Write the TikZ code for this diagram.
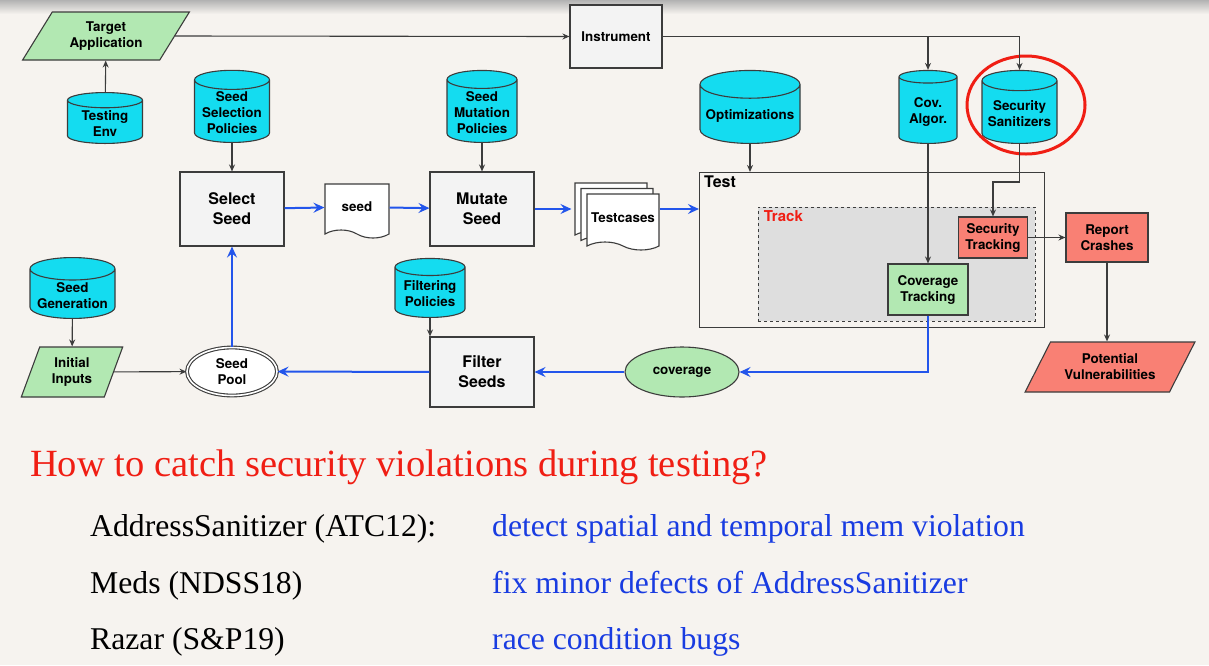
\documentclass[tikz,border=0pt]{standalone}
\usepackage{fontspec}
\setmainfont{Liberation Serif}
\setsansfont{TeX Gyre Heros}
\usetikzlibrary{shapes.geometric,shapes.symbols,shadows,arrows.meta,positioning}

\definecolor{bgpaper}{RGB}{246,243,239}
\definecolor{dbcyan}{RGB}{20,220,240}
\definecolor{okgreen}{RGB}{178,232,178}
\definecolor{badred}{RGB}{249,128,116}
\definecolor{boxgray}{RGB}{243,243,243}
\definecolor{edgegray}{RGB}{60,60,60}
\definecolor{trackgray}{RGB}{222,222,222}
\definecolor{flowblue}{RGB}{35,85,235}
\definecolor{titlered}{RGB}{240,30,20}
\definecolor{noteblue}{RGB}{25,60,225}

\begin{document}
\begin{tikzpicture}[%
    x=1pt, y=-1pt,              % one unit is one pixel, y runs downwards
    >={Stealth[length=7pt,width=6pt]},
    ]
% -------------------------------------------------
% Box and line styles
\tikzset{
  txt/.style={font=\sffamily\bfseries\fontsize{13.4}{16}\selectfont},
  big/.style={font=\sffamily\bfseries\fontsize{16}{20}\selectfont},
  base/.style={txt, draw=edgegray, line width=1.1pt, align=center, inner sep=2pt},
  proc/.style={base, rectangle, fill=boxgray},
  db/.style={base, cylinder, shape border rotate=90, aspect=0.3, fill=dbcyan, anchor=south},
  io/.style={base, trapezium, trapezium stretches=true, fill=okgreen},
  docu/.style={base, tape, tape bend top=none, tape bend bottom=out and in,
    tape bend height=8pt, fill=white},
  % Connector line styles
  norm/.style={->, draw=edgegray, line width=1.1pt},
  flow/.style={->, draw=flowblue, line width=2pt,
    >={Stealth[length=11pt,width=10pt,inset=4pt]}},
  note/.style={anchor=base west, inner sep=0pt,
    font=\rmfamily\fontsize{31.7}{34}\selectfont},
}
% -------------------------------------------------
% Page
\fill [bgpaper] (0,0) rectangle (1209,665);
\shade [top color=black!30, bottom color=bgpaper] (0,0) rectangle (1209,14);
\useasboundingbox (0,0) rectangle (1209,665);
% -------------------------------------------------
% Test area first, so the lines run over it
\node [draw=edgegray, line width=1.1pt, fill=bgpaper,
  minimum width=345, minimum height=155] (test) at (872,250) {};
\node [big, anchor=north west, inner sep=0pt] (testlbl)
  at ([shift={(5,4)}]test.north west) {Test};
\node [draw=edgegray, dashed, line width=0.9pt, fill=trackgray,
  minimum width=277, minimum height=114] (track) at (896.5,264) {};
\node [txt, anchor=north west, inner sep=0pt, text=titlered,
  font=\sffamily\bfseries\fontsize{15}{18}\selectfont] (tracklbl)
  at ([shift={(6,4)}]track.north west) {Track};
% -------------------------------------------------
% Upper row
\node [io, trapezium left angle=57, trapezium right angle=123,
  minimum width=167, minimum height=48] (tapp) at (106,36) {Target\\Application};
\node [db, minimum width=75, minimum height=49] (tenv) at (105,144) {Testing\\Env};
\node [proc, minimum width=92, minimum height=63] (instr) at (616,36.5) {Instrument};
\node [db, minimum width=75, minimum height=72] (ssel) at (232,143) {Seed\\Selection\\Policies};
\node [db, minimum width=70, minimum height=72] (smut) at (482,143) {Seed\\Mutation\\Policies};
\node [db, minimum width=100, minimum height=73] (opt) at (750,144) {Optimizations};
\node [db, minimum width=58, minimum height=73] (calg) at (928,144) {Cov.\\Algor.};
\node [db, minimum width=75, minimum height=73] (ssan) at (1019.5,144) {Security\\Sanitizers};
\node [draw=titlered, line width=3pt, ellipse, minimum width=118,
  minimum height=98] (mark) at (1026,105) {};
% -------------------------------------------------
% Middle row
\node [proc, big, minimum width=104, minimum height=74] (selseed) at (232,209) {Select\\Seed};
\node [docu, minimum width=64, minimum height=54] (seed) at (357,207) {seed};
\node [proc, big, minimum width=104, minimum height=74] (mutseed) at (482,209) {Mutate\\Seed};
\node [docu, minimum width=72, minimum height=56,
  double copy shadow={shadow xshift=-6pt, shadow yshift=5.5pt}] (tcase) at (623,218) {Testcases};
\node [proc, fill=badred, minimum width=69, minimum height=41] (strk) at (993,237.5) {Security\\Tracking};
\node [proc, fill=okgreen, minimum width=80, minimum height=51] (ctrk) at (928,289.5) {Coverage\\Tracking};
\node [proc, fill=badred, minimum width=82, minimum height=49] (rep) at (1107,237.5) {Report\\Crashes};
% -------------------------------------------------
% Lower row
\node [db, minimum width=85, minimum height=57] (sgen) at (72.5,319) {Seed\\Generation};
\node [io, trapezium left angle=69, trapezium right angle=111,
  minimum width=102, minimum height=50] (init) at (72,372) {Initial\\Inputs};
\node [base, ellipse, double, double distance=1.6pt, fill=white,
  minimum width=90, minimum height=48] (pool) at (232,371.5) {Seed\\Pool};
\node [db, minimum width=70, minimum height=59] (fpol) at (430,318) {Filtering\\Policies};
\node [proc, big, minimum width=104, minimum height=70] (filt) at (482,372) {Filter\\Seeds};
\node [base, ellipse, fill=okgreen, minimum width=114, minimum height=50] (cov) at (682,372) {coverage};
\node [io, fill=badred, trapezium left angle=56, trapezium right angle=124,
  minimum width=170, minimum height=50] (pvul) at (1110,367) {Potential\\Vulnerabilities};
% -------------------------------------------------
% Black connectors
\draw [norm] (tenv) -- (tapp);
\draw [norm] (tapp.east) -- (instr.west);
\draw [norm] (instr.east) -| (calg.north);
\draw [norm] (instr.east) -| (ssan.north);
\draw [norm] (ssel) -- (selseed);
\draw [norm] (smut) -- (mutseed);
\draw [norm] (opt.south) -- (opt.south |- test.north);
\draw [norm] (calg.south) -- (ctrk.north);
\draw [norm] (ssan.south) -- ++(0,38) -| (strk.north);
\draw [norm] (strk) -- (rep);
\draw [norm] (rep.south) -- (rep.south |- pvul.north);
\draw [norm] (sgen) -- (init);
\draw [norm] (init) -- (pool);
\draw [norm] (fpol.south) -- (fpol.south |- filt.north);
% Blue connectors
\coordinate (tcback) at ([xshift=-15pt]tcase.west);
\draw [flow] (selseed) -- (seed);
\draw [flow] (seed) -- (mutseed);
\draw [flow] (mutseed.east) -- (mutseed.east -| tcback);
\draw [flow] (mutseed.east -| tcase.east) -- (mutseed.east -| test.west);
\draw [flow] (ctrk.south) |- (cov.east);
\draw [flow] (cov) -- (filt);
\draw [flow] (filt) -- (pool);
\draw [flow] (pool) -- (selseed);
% -------------------------------------------------
% Notes below the diagram
\node [note, text=titlered, font=\rmfamily\fontsize{38.5}{42}\selectfont]
  (quest) at (30,476) {How to catch security violations during testing?};
\node [note] (asan) at (90,536) {AddressSanitizer (ATC12):};
\node [note, text=noteblue] (asand) at (492,536) {detect spatial and temporal mem violation};
\node [note] (meds) at (90,593) {Meds (NDSS18)};
\node [note, text=noteblue] (medsd) at (492,593) {fix minor defects of AddressSanitizer};
\node [note] (razar) at (90,649) {Razar (S\&P19)};
\node [note, text=noteblue] (razard) at (492,649) {race condition bugs};
\end{tikzpicture}
\end{document}
